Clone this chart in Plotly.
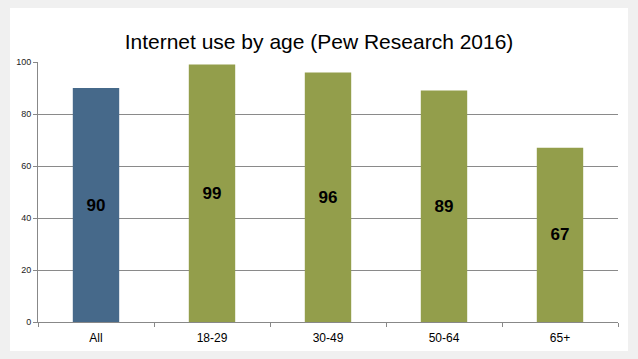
import plotly.graph_objects as go

categories = ["All", "18-29", "30-49", "50-64", "65+"]
values = [90, 99, 96, 89, 67]
y_ticks = [0, 20, 40, 60, 80, 100]
title_text = "Internet use by age (Pew Research 2016)"

BLUE = "#46698a"
GREEN = "#939e4b"
bar_colors = [BLUE if c == "All" else GREEN for c in categories]

W, H = 638, 359
L, R, T, B = 38, 20, 62, 37
pw, ph = W - L - R, H - T - B

fig = go.Figure(go.Bar(
    x=categories, y=values,
    marker=dict(color=bar_colors, line=dict(width=0)),
    width=0.4,
    text=[str(v) for v in values],
    texttemplate="<b>%{text}</b>",
    textposition="inside", insidetextanchor="middle", textangle=0,
    textfont=dict(family="Liberation Sans, Arial", size=17, color="black"),
    hoverinfo="skip",
))

# white slide area
fig.add_shape(type="rect", xref="paper", yref="paper", layer="below",
              x0=(10 - L) / pw, x1=(628 - L) / pw,
              y0=(H - B - 351) / ph, y1=(H - B - 8) / ph,
              fillcolor="white", line=dict(width=0))

fig.update_layout(
    width=W, height=H,
    margin=dict(l=L, r=R, t=T, b=B),
    paper_bgcolor="#f0f0f0", plot_bgcolor="white",
    showlegend=False,
    font=dict(family="Liberation Sans, Arial", color="black"),
    title=dict(text=title_text, x=0.5, xanchor="center", y=1 - 42 / H, yanchor="middle",
               font=dict(size=21, color="black")),
    xaxis=dict(
        type="category", showgrid=False, showline=True, linecolor="#888888", linewidth=1,
        ticks="outside", tickson="boundaries", ticklen=4, tickcolor="#888888",
        ticklabelstandoff=5,
        tickfont=dict(size=12, color="black"), fixedrange=True,
    ),
    yaxis=dict(
        range=[0, 100], tickvals=y_ticks, showgrid=True, gridcolor="#8a8a8a", gridwidth=1,
        showline=True, linecolor="#888888", linewidth=1, zeroline=False,
        ticks="outside", ticklen=4, tickcolor="#888888",
        tickfont=dict(size=9, color="#222222"), fixedrange=True,
    ),
)

fig.write_html("out.html", config={"displayModeBar": False},
               post_script="document.body.style.margin='0';document.body.style.overflow='hidden';")
